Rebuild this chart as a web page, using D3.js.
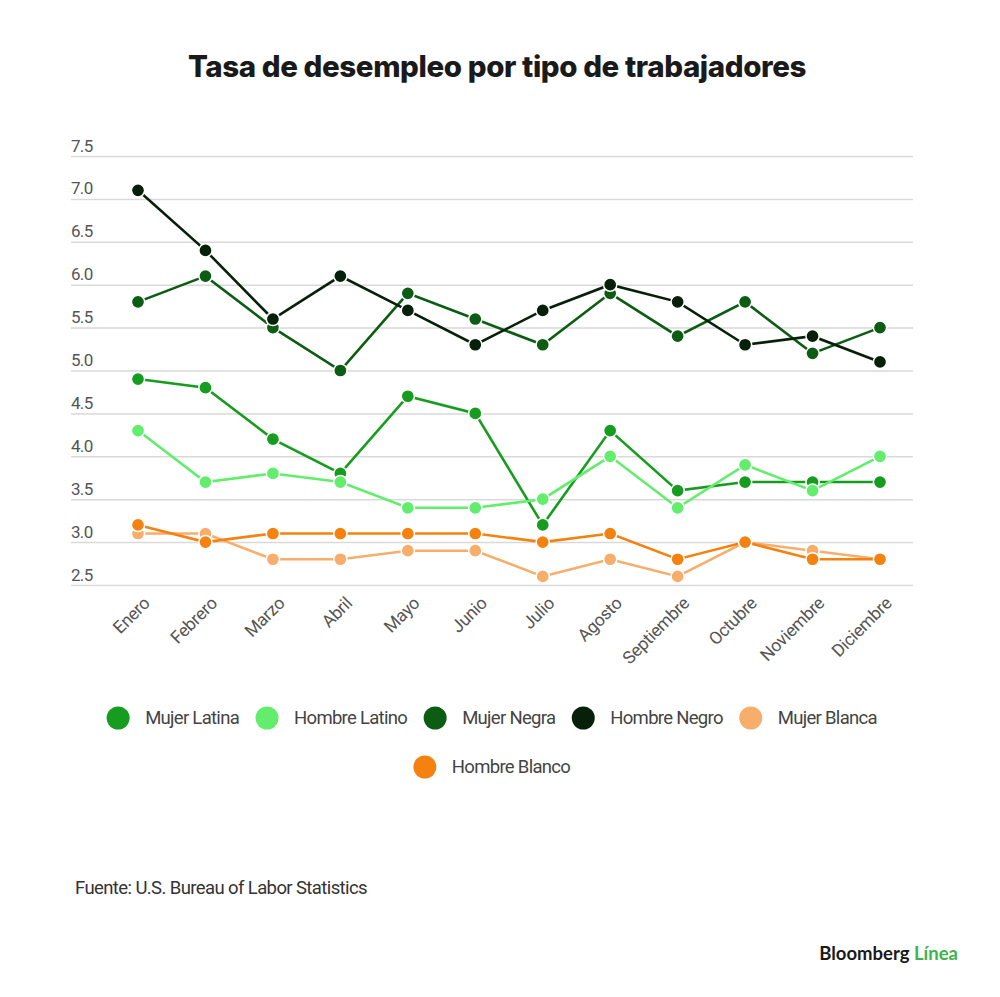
<!DOCTYPE html>
<html><head><meta charset="utf-8">
<script src="https://cdn.jsdelivr.net/npm/d3@7"></script>
<style>
body{margin:0;background:#fff;}
svg{display:block;font-family:Roboto, "Liberation Sans", sans-serif;}
</style></head>
<body>
<svg id="chart" width="1000" height="997"></svg>
<script>
const months = ["Enero","Febrero","Marzo","Abril","Mayo","Junio","Julio","Agosto","Septiembre","Octubre","Noviembre","Diciembre"];
const yTicks = [2.5,3.0,3.5,4.0,4.5,5.0,5.5,6.0,6.5,7.0,7.5];
const seriesNames = ["Mujer Latina","Hombre Latino","Mujer Negra","Hombre Negro","Mujer Blanca","Hombre Blanco"];
const seriesColors = ["#169c1e","#62ee6c","#0c5c13","#07200a","#f7ae6c","#f5820f"];
const mujerLatina  = [4.9,4.8,4.2,3.8,4.7,4.5,3.2,4.3,3.6,3.7,3.7,3.7];
const hombreLatino = [4.3,3.7,3.8,3.7,3.4,3.4,3.5,4.0,3.4,3.9,3.6,4.0];
const mujerNegra   = [5.8,6.1,5.5,5.0,5.9,5.6,5.3,5.9,5.4,5.8,5.2,5.5];
const hombreNegro  = [7.1,6.4,5.6,6.1,5.7,5.3,5.7,6.0,5.8,5.3,5.4,5.1];
const mujerBlanca  = [3.1,3.1,2.8,2.8,2.9,2.9,2.6,2.8,2.6,3.0,2.9,2.8];
const hombreBlanco = [3.2,3.0,3.1,3.1,3.1,3.1,3.0,3.1,2.8,3.0,2.8,2.8];
const seriesValues = [mujerLatina,hombreLatino,mujerNegra,hombreNegro,mujerBlanca,hombreBlanco];

const svg = d3.select("#chart");
const gridLeft = 71, gridRight = 913;
const x = d3.scalePoint().domain(months).range([138,880]);
const y = d3.scaleLinear().domain([2.5,7.5]).range([585,156]);

svg.append("text").attr("x",497).attr("y",77).attr("text-anchor","middle")
  .attr("font-family","Inter, Roboto, sans-serif").attr("font-weight",800)
  .attr("font-size",29.5).attr("fill","#1a1a1a").attr("letter-spacing","-0.4")
  .text("Tasa de desempleo por tipo de trabajadores");

// grid
const yAxis = d3.axisLeft(y).tickValues(yTicks).tickSize(-(gridRight-gridLeft)).tickFormat(d3.format(".1f"));
const gy = svg.append("g").attr("transform",`translate(${gridLeft},0)`).call(yAxis);
gy.select(".domain").remove();
gy.selectAll(".tick line").attr("stroke","#d9d9d9").attr("stroke-width",1.5);
gy.selectAll(".tick text").attr("x",0).attr("dy",-5).attr("text-anchor","start")
  .attr("font-size",17).attr("fill","#555").attr("letter-spacing","-0.7")
  .attr("font-family","Roboto, sans-serif");

// x axis labels
const xAxis = d3.axisBottom(x).tickSize(0);
const gx = svg.append("g").attr("transform","translate(0,598)").call(xAxis);
gx.select(".domain").remove();
gx.selectAll(".tick text").attr("font-size",17.5).attr("fill","#555")
  .attr("font-family","Roboto, sans-serif").attr("letter-spacing","-0.3")
  .attr("text-anchor","end").attr("dy","0.35em").attr("y",0).attr("x",0)
  .attr("transform","translate(8,2) rotate(-45)");

// lines
const line = d3.line().x((d,i)=>x(months[i])).y(d=>y(d));
seriesValues.forEach((vals,si)=>{
  const g = svg.append("g");
  g.append("path").datum(vals).attr("d",line).attr("fill","none")
    .attr("stroke",seriesColors[si]).attr("stroke-width",2.6);
  g.selectAll("circle").data(vals).join("circle")
    .attr("cx",(d,i)=>x(months[i])).attr("cy",d=>y(d)).attr("r",6.6)
    .attr("fill",seriesColors[si]).attr("stroke","#fff").attr("stroke-width",1.5);
});

// legend
const legRows = [[0,1,2,3,4],[5]];
const legY = [718,767];
legRows.forEach((row,ri)=>{
  const g = svg.append("g");
  let cx = 0;
  row.forEach(si=>{
    g.append("circle").attr("cx",cx+11).attr("cy",legY[ri]).attr("r",11.5).attr("fill",seriesColors[si]);
    const t = g.append("text").attr("x",cx+38).attr("y",legY[ri]).attr("dy","0.35em")
      .attr("font-size",18.5).attr("fill","#444").attr("letter-spacing","-0.7").text(seriesNames[si]);
    cx += 38 + t.node().getComputedTextLength() + 17;
  });
  const w = cx - 17;
  g.attr("transform",`translate(${492 - w/2},0)`);
});

svg.append("text").attr("x",75).attr("y",894).attr("font-size",18.5).attr("fill","#333")
  .attr("letter-spacing","-0.6").text("Fuente: U.S. Bureau of Labor Statistics");

const logo = svg.append("text").attr("x",958).attr("y",960).attr("text-anchor","end")
  .attr("font-family","Lato, 'Open Sans', sans-serif").attr("font-weight",700).attr("font-size",18.5);
logo.append("tspan").attr("fill","#1a1a1a").text("Bloomberg ");
logo.append("tspan").attr("fill","#3cb54a").text("Línea");
</script>
</body></html>
